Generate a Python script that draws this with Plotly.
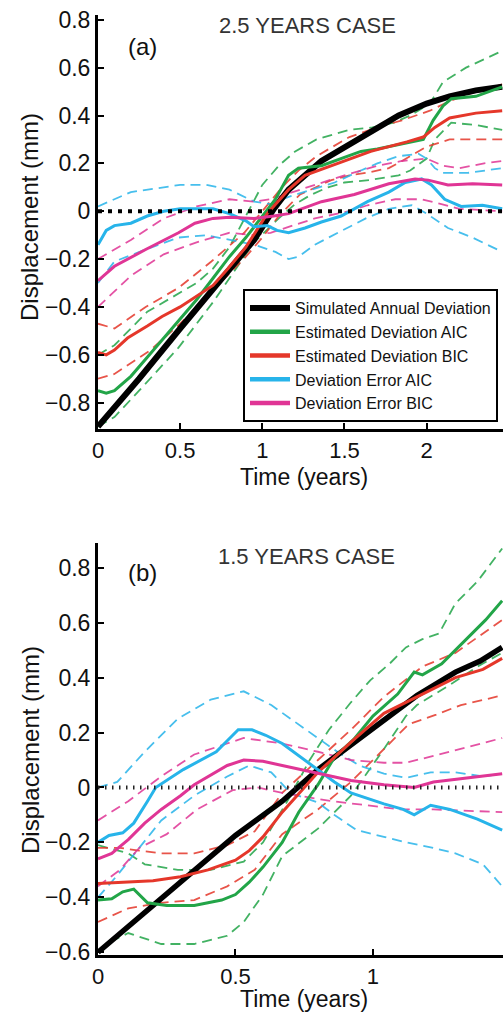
import plotly.graph_objects as go

# ---------------- Panel (a): 2.5 years case ----------------
A_T_BLACK = [0, 0.25, 0.5, 0.75, 0.95, 1.07, 1.16, 1.36, 1.53, 1.7, 1.83, 2.0, 2.14, 2.3, 2.46]
A_BLACK = [-0.90, -0.70, -0.49, -0.28, -0.12, 0.01, 0.09, 0.21, 0.28, 0.35, 0.40, 0.45, 0.48, 0.505, 0.52]

A_T_GREEN = [0, 0.05, 0.1, 0.2, 0.3, 0.4, 0.5, 0.6, 0.7, 0.8, 0.9, 1.0, 1.08, 1.16, 1.22, 1.36, 1.48, 1.6, 1.7, 1.83, 1.98, 2.04, 2.1, 2.15, 2.3, 2.46]
A_GREEN = [-0.75, -0.76, -0.75, -0.69, -0.61, -0.53, -0.45, -0.37, -0.28, -0.19, -0.11, -0.02, 0.05, 0.15, 0.18, 0.19, 0.22, 0.25, 0.26, 0.28, 0.30, 0.38, 0.44, 0.47, 0.48, 0.52]
A_T_GREEN_UP = [0, 0.1, 0.3, 0.45, 0.6, 0.7, 0.8, 0.9, 1.0, 1.1, 1.2, 1.33, 1.53, 1.67, 1.8, 1.9, 2.02, 2.1, 2.24, 2.46]
A_GREEN_UP = [-0.60, -0.56, -0.42, -0.36, -0.30, -0.24, -0.15, -0.02, 0.11, 0.19, 0.25, 0.30, 0.34, 0.35, 0.37, 0.40, 0.45, 0.54, 0.60, 0.67]
A_T_GREEN_LO = [0, 0.1, 0.25, 0.49, 0.7, 0.95, 1.1, 1.2, 1.3, 1.4, 1.5, 1.65, 1.83, 1.9, 2.0, 2.05, 2.15, 2.3, 2.46]
A_GREEN_LO = [-0.90, -0.86, -0.75, -0.57, -0.38, -0.13, -0.03, 0.03, 0.07, 0.10, 0.12, 0.13, 0.15, 0.17, 0.22, 0.30, 0.37, 0.36, 0.34]

A_T_RED = [0, 0.05, 0.1, 0.18, 0.3, 0.39, 0.5, 0.59, 0.7, 0.79, 0.9, 1.03, 1.16, 1.26, 1.46, 1.66, 1.88, 1.98, 2.05, 2.14, 2.3, 2.46]
A_RED = [-0.59, -0.60, -0.58, -0.53, -0.48, -0.44, -0.40, -0.36, -0.31, -0.24, -0.15, -0.01, 0.09, 0.15, 0.20, 0.25, 0.29, 0.31, 0.35, 0.39, 0.41, 0.42]
A_T_RED_UP = [0, 0.1, 0.29, 0.49, 0.69, 0.89, 1.0, 1.12, 1.22, 1.33, 1.53, 1.7, 1.85, 2.02, 2.14, 2.3, 2.46]
A_RED_UP = [-0.47, -0.49, -0.40, -0.32, -0.21, -0.09, 0.0, 0.10, 0.17, 0.23, 0.31, 0.35, 0.38, 0.42, 0.46, 0.50, 0.53]
A_T_RED_LO = [0, 0.1, 0.32, 0.5, 0.7, 0.9, 1.0, 1.1, 1.23, 1.42, 1.53, 1.63, 1.77, 1.85, 2.0, 2.14, 2.3, 2.46]
A_RED_LO = [-0.70, -0.68, -0.58, -0.47, -0.33, -0.19, -0.11, -0.02, 0.07, 0.13, 0.15, 0.16, 0.18, 0.21, 0.27, 0.30, 0.30, 0.30]

A_T_CYAN = [0, 0.05, 0.1, 0.2, 0.3, 0.4, 0.5, 0.6, 0.7, 0.8, 0.9, 0.95, 1.03, 1.09, 1.16, 1.26, 1.36, 1.48, 1.56, 1.64, 1.77, 1.87, 1.97, 2.03, 2.11, 2.21, 2.34, 2.46]
A_CYAN = [-0.14, -0.08, -0.06, -0.05, -0.02, 0.0, 0.01, 0.01, 0.01, -0.01, -0.04, -0.065, -0.06, -0.08, -0.09, -0.07, -0.045, -0.02, 0.01, 0.04, 0.08, 0.12, 0.135, 0.11, 0.05, 0.02, 0.025, 0.01]
A_T_CYAN_UP = [0, 0.2, 0.5, 0.66, 0.8, 0.95, 1.05, 1.16, 1.3, 1.44, 1.6, 1.7, 1.83, 1.95, 2.0, 2.05, 2.1, 2.25, 2.46]
A_CYAN_UP = [0.02, 0.08, 0.11, 0.11, 0.09, 0.04, 0.03, 0.06, 0.09, 0.12, 0.17, 0.20, 0.23, 0.24, 0.22, 0.18, 0.16, 0.16, 0.18]
A_T_CYAN_LO = [0, 0.1, 0.29, 0.49, 0.66, 0.8, 0.95, 1.08, 1.16, 1.22, 1.32, 1.46, 1.63, 1.77, 1.91, 2.0, 2.13, 2.28, 2.46]
A_CYAN_LO = [-0.30, -0.21, -0.16, -0.11, -0.10, -0.12, -0.14, -0.17, -0.20, -0.19, -0.14, -0.09, -0.03, 0.01, 0.025, -0.01, -0.07, -0.11, -0.17]

A_T_MAG = [0, 0.1, 0.29, 0.49, 0.59, 0.7, 0.8, 0.95, 1.07, 1.16, 1.36, 1.56, 1.77, 1.93, 2.01, 2.13, 2.28, 2.46]
A_MAG = [-0.29, -0.23, -0.16, -0.09, -0.05, -0.03, -0.025, -0.03, -0.02, -0.01, 0.04, 0.07, 0.115, 0.135, 0.13, 0.11, 0.115, 0.11]
A_T_MAG_UP = [0, 0.2, 0.4, 0.6, 0.8, 0.95, 1.05, 1.23, 1.5, 1.7, 1.85, 2.0, 2.1, 2.2, 2.35, 2.46]
A_MAG_UP = [-0.20, -0.12, -0.03, 0.02, 0.05, 0.04, 0.05, 0.09, 0.15, 0.19, 0.21, 0.22, 0.19, 0.18, 0.20, 0.21]
A_T_MAG_LO = [0, 0.2, 0.4, 0.6, 0.8, 0.95, 1.05, 1.23, 1.32, 1.53, 1.64, 1.81, 1.97, 2.09, 2.2, 2.46]
A_MAG_LO = [-0.40, -0.27, -0.18, -0.13, -0.09, -0.10, -0.09, -0.05, -0.03, 0.0, 0.025, 0.05, 0.05, 0.03, 0.01, 0.0]

# ---------------- Panel (b): 1.5 years case ----------------
B_T_BLACK = [0, 0.25, 0.5, 0.67, 0.8, 0.94, 1.06, 1.16, 1.3, 1.39, 1.47]
B_BLACK = [-0.60, -0.385, -0.175, -0.05, 0.065, 0.17, 0.26, 0.335, 0.42, 0.46, 0.51]

B_T_GREEN = [0, 0.05, 0.09, 0.13, 0.18, 0.25, 0.35, 0.45, 0.5, 0.55, 0.6, 0.67, 0.73, 0.8, 0.86, 0.93, 1.0, 1.09, 1.15, 1.18, 1.25, 1.34, 1.41, 1.47]
B_GREEN = [-0.41, -0.405, -0.38, -0.37, -0.42, -0.43, -0.43, -0.41, -0.39, -0.345, -0.29, -0.20, -0.09, 0.01, 0.11, 0.175, 0.26, 0.34, 0.42, 0.41, 0.45, 0.54, 0.61, 0.68]
B_T_GREEN_UP = [0, 0.11, 0.17, 0.29, 0.41, 0.53, 0.6, 0.7, 0.77, 0.84, 0.92, 0.99, 1.06, 1.12, 1.18, 1.24, 1.3, 1.38, 1.47]
B_GREEN_UP = [-0.21, -0.24, -0.28, -0.30, -0.30, -0.27, -0.20, -0.03, 0.10, 0.21, 0.31, 0.39, 0.45, 0.51, 0.54, 0.56, 0.67, 0.75, 0.87]
B_T_GREEN_LO = [0, 0.05, 0.11, 0.23, 0.35, 0.47, 0.53, 0.6, 0.67, 0.8, 0.92, 1.04, 1.12, 1.16, 1.29, 1.38, 1.47]
B_GREEN_LO = [-0.60, -0.56, -0.53, -0.57, -0.57, -0.54, -0.49, -0.39, -0.25, -0.15, -0.03, 0.14, 0.26, 0.30, 0.38, 0.44, 0.49]

B_T_RED = [0, 0.1, 0.2, 0.3, 0.4, 0.5, 0.55, 0.6, 0.67, 0.8, 0.92, 1.04, 1.16, 1.3, 1.4, 1.47]
B_RED = [-0.35, -0.345, -0.34, -0.325, -0.30, -0.265, -0.23, -0.18, -0.09, 0.055, 0.165, 0.27, 0.33, 0.40, 0.43, 0.47]
B_T_RED_UP = [0, 0.08, 0.15, 0.23, 0.35, 0.47, 0.57, 0.67, 0.8, 0.92, 1.04, 1.18, 1.3, 1.4, 1.47]
B_RED_UP = [-0.22, -0.22, -0.23, -0.24, -0.24, -0.21, -0.16, -0.02, 0.10, 0.21, 0.33, 0.44, 0.49, 0.56, 0.61]
B_T_RED_LO = [0, 0.11, 0.23, 0.35, 0.47, 0.57, 0.67, 0.8, 0.92, 1.04, 1.13, 1.23, 1.32, 1.47]
B_RED_LO = [-0.49, -0.44, -0.42, -0.41, -0.36, -0.30, -0.17, -0.08, 0.02, 0.14, 0.23, 0.265, 0.30, 0.335]

B_T_CYAN = [0, 0.04, 0.09, 0.13, 0.18, 0.21, 0.31, 0.43, 0.47, 0.51, 0.56, 0.61, 0.67, 0.73, 0.8, 0.86, 0.92, 0.98, 1.04, 1.11, 1.15, 1.21, 1.28, 1.38, 1.47]
B_CYAN = [-0.20, -0.175, -0.165, -0.13, -0.05, 0.0, 0.065, 0.13, 0.17, 0.21, 0.21, 0.19, 0.16, 0.115, 0.065, 0.02, -0.02, -0.04, -0.06, -0.08, -0.10, -0.065, -0.08, -0.115, -0.155]
B_T_CYAN_UP = [0, 0.07, 0.17, 0.29, 0.41, 0.53, 0.63, 0.7, 0.8, 0.87, 0.95, 1.04, 1.12, 1.21, 1.3, 1.4, 1.47]
B_CYAN_UP = [0.0, 0.02, 0.13, 0.25, 0.32, 0.35, 0.30, 0.25, 0.18, 0.13, 0.08, 0.05, 0.035, 0.055, 0.055, 0.04, 0.05]
B_T_CYAN_LO = [0, 0.07, 0.15, 0.23, 0.35, 0.47, 0.55, 0.63, 0.7, 0.8, 0.86, 0.94, 1.04, 1.12, 1.22, 1.3, 1.4, 1.47]
B_CYAN_LO = [-0.40, -0.32, -0.22, -0.12, -0.03, 0.04, 0.08, 0.055, -0.02, -0.055, -0.10, -0.155, -0.18, -0.20, -0.22, -0.24, -0.28, -0.36]

B_T_MAG = [0, 0.05, 0.11, 0.17, 0.23, 0.3, 0.35, 0.42, 0.47, 0.53, 0.6, 0.67, 0.8, 0.92, 1.04, 1.15, 1.22, 1.34, 1.47]
B_MAG = [-0.26, -0.24, -0.19, -0.13, -0.08, -0.03, 0.01, 0.05, 0.08, 0.10, 0.095, 0.08, 0.05, 0.025, 0.01, 0.0, 0.02, 0.035, 0.05]
B_T_MAG_UP = [0, 0.11, 0.23, 0.35, 0.47, 0.53, 0.6, 0.67, 0.8, 0.92, 1.04, 1.12, 1.22, 1.34, 1.47]
B_MAG_UP = [-0.12, -0.05, 0.04, 0.12, 0.16, 0.18, 0.17, 0.16, 0.13, 0.10, 0.09, 0.09, 0.115, 0.145, 0.18]
B_T_MAG_LO = [0, 0.08, 0.15, 0.25, 0.36, 0.49, 0.58, 0.67, 0.73, 0.85, 0.98, 1.1, 1.22, 1.35, 1.47]
B_MAG_LO = [-0.36, -0.30, -0.22, -0.17, -0.08, -0.01, 0.0, -0.02, -0.03, -0.05, -0.065, -0.08, -0.08, -0.085, -0.09]

# ---------------- Labels / ticks ----------------
LEGEND_NAMES = ["Simulated Annual Deviation", "Estimated Deviation AIC", "Estimated Deviation BIC",
                "Deviation Error AIC", "Deviation Error BIC"]
A_XTICKS = [0, 0.5, 1, 1.5, 2]
A_XTICKTEXT = ["0", "0.5", "1", "1.5", "2"]
A_YTICKS = [-0.8, -0.6, -0.4, -0.2, 0, 0.2, 0.4, 0.6, 0.8]
A_YTICKTEXT = ["\u22120.8", "\u22120.6", "\u22120.4", "\u22120.2", "0", "0.2", "0.4", "0.6", "0.8"]
B_XTICKS = [0, 0.5, 1]
B_XTICKTEXT = ["0", "0.5", "1"]
B_YTICKS = [-0.6, -0.4, -0.2, 0, 0.2, 0.4, 0.6, 0.8]
B_YTICKTEXT = ["\u22120.6", "\u22120.4", "\u22120.2", "0", "0.2", "0.4", "0.6", "0.8"]

BLACK = "#000000"
GREEN = "#22a548"
RED = "#e5372a"
CYAN = "#27b4ea"
MAGENTA = "#e03595"
FONT = "Liberation Sans, Arial, Helvetica, sans-serif"

W, H = 503, 1013
fig = go.Figure()


def dashed(t, y, color, xa, ya):
    fig.add_trace(go.Scatter(x=t, y=y, mode="lines", xaxis=xa, yaxis=ya, showlegend=False,
                             line=dict(color=color, width=1.8, dash="10px,6px"), opacity=0.85,
                             hoverinfo="skip"))


def solid(t, y, color, width, xa, ya):
    fig.add_trace(go.Scatter(x=t, y=y, mode="lines", xaxis=xa, yaxis=ya, showlegend=False,
                             line=dict(color=color, width=width), hoverinfo="skip"))


panels = [
    ("x", "y",
     [(A_T_GREEN_UP, A_GREEN_UP, GREEN), (A_T_GREEN_LO, A_GREEN_LO, GREEN),
      (A_T_RED_UP, A_RED_UP, RED), (A_T_RED_LO, A_RED_LO, RED),
      (A_T_CYAN_UP, A_CYAN_UP, CYAN), (A_T_CYAN_LO, A_CYAN_LO, CYAN),
      (A_T_MAG_UP, A_MAG_UP, MAGENTA), (A_T_MAG_LO, A_MAG_LO, MAGENTA)],
     [(A_T_BLACK, A_BLACK, BLACK, 6), (A_T_GREEN, A_GREEN, GREEN, 3),
      (A_T_RED, A_RED, RED, 3), (A_T_CYAN, A_CYAN, CYAN, 3), (A_T_MAG, A_MAG, MAGENTA, 3)]),
    ("x2", "y2",
     [(B_T_GREEN_UP, B_GREEN_UP, GREEN), (B_T_GREEN_LO, B_GREEN_LO, GREEN),
      (B_T_RED_UP, B_RED_UP, RED), (B_T_RED_LO, B_RED_LO, RED),
      (B_T_CYAN_UP, B_CYAN_UP, CYAN), (B_T_CYAN_LO, B_CYAN_LO, CYAN),
      (B_T_MAG_UP, B_MAG_UP, MAGENTA), (B_T_MAG_LO, B_MAG_LO, MAGENTA)],
     [(B_T_BLACK, B_BLACK, BLACK, 5.5), (B_T_GREEN, B_GREEN, GREEN, 3),
      (B_T_RED, B_RED, RED, 3), (B_T_CYAN, B_CYAN, CYAN, 3), (B_T_MAG, B_MAG, MAGENTA, 3)]),
]

for xa, ya, dl, sl in panels:
    for t, y, c in dl:
        dashed(t, y, c, xa, ya)
    for t, y, c, w in sl:
        solid(t, y, c, w, xa, ya)

# legend entries (legend only)
for name, c, w in zip(LEGEND_NAMES, [BLACK, GREEN, RED, CYAN, MAGENTA], [6, 4.5, 4.5, 4.5, 4.5]):
    fig.add_trace(go.Scatter(x=[None], y=[None], mode="lines", name=name,
                             line=dict(color=c, width=w), xaxis="x", yaxis="y"))

# zero reference lines
fig.add_shape(type="line", xref="x domain", yref="y", x0=0, x1=1, y0=0, y1=0,
              line=dict(color="black", width=4, dash="4px,6px"), layer="above")
fig.add_shape(type="line", xref="x2 domain", yref="y2", x0=0, x1=1, y0=0, y1=0,
              line=dict(color="#222", width=4, dash="1.5px,5.5px"), layer="above")

axis_common = dict(showline=True, linewidth=3, linecolor="black", ticks="inside", ticklen=6,
                   tickwidth=2, tickcolor="black", showgrid=False, zeroline=False, mirror=False)
yfont = dict(family=FONT, size=23, color="#111")
xfont = dict(family=FONT, size=22, color="#111")

xdom = [98 / W, 1.0]
fig.update_layout(
    width=W, height=H, margin=dict(l=0, r=0, t=0, b=0, autoexpand=False),
    paper_bgcolor="white", plot_bgcolor="white",
    font=dict(family=FONT, color="#111"),
    xaxis=dict(domain=xdom, range=[0, 2.465], anchor="y", tickvals=A_XTICKS, ticktext=A_XTICKTEXT,
               ticklabelstandoff=0, tickfont=xfont, **axis_common),
    yaxis=dict(domain=[1 - 429 / H, 1 - 15 / H], range=[-0.91, 0.82], anchor="x",
               tickvals=A_YTICKS, ticktext=A_YTICKTEXT, ticklabelstandoff=0, tickfont=yfont,
               **axis_common),
    xaxis2=dict(domain=xdom, range=[0, 1.473], anchor="y2", tickvals=B_XTICKS, ticktext=B_XTICKTEXT,
                ticklabelstandoff=0, tickfont=xfont, **axis_common),
    yaxis2=dict(domain=[1 - 955 / H, 1 - 543 / H], range=[-0.61, 0.89], anchor="x2",
                tickvals=B_YTICKS, ticktext=B_YTICKTEXT, ticklabelstandoff=0, tickfont=yfont,
                **axis_common),
    legend=dict(x=243 / W, y=1 - 289 / H, xanchor="left", yanchor="top",
                bgcolor="white", bordercolor="black", borderwidth=2,
                font=dict(family=FONT, size=16, color="#111"), tracegroupgap=0,
                itemwidth=40),
    showlegend=True,
)

ann = [
    dict(text="2.5 YEARS CASE", x=307 / W, y=1 - 25 / H, size=22, color="#333"),
    dict(text="(a)", x=142 / W, y=1 - 47 / H, size=24, color="#111"),
    dict(text="1.5 YEARS CASE", x=306 / W, y=1 - 556 / H, size=22, color="#333"),
    dict(text="(b)", x=142 / W, y=1 - 572 / H, size=24, color="#111"),
    dict(text="Time (years)", x=304 / W, y=1 - 477 / H, size=23, color="#111"),
    dict(text="Time (years)", x=304 / W, y=1 - 999 / H, size=23, color="#111"),
]
for a in ann:
    fig.add_annotation(text=a["text"], x=a["x"], y=a["y"], xref="paper", yref="paper",
                       xanchor="center", yanchor="middle", showarrow=False,
                       font=dict(family=FONT, size=a["size"], color=a["color"]))
for yc in [217, 750]:
    fig.add_annotation(text="Displacement (mm)", x=30 / W, y=1 - yc / H, xref="paper", yref="paper",
                       xanchor="center", yanchor="middle", showarrow=False, textangle=-90,
                       font=dict(family=FONT, size=24, color="#111"))

fig.write_html("out.html")
